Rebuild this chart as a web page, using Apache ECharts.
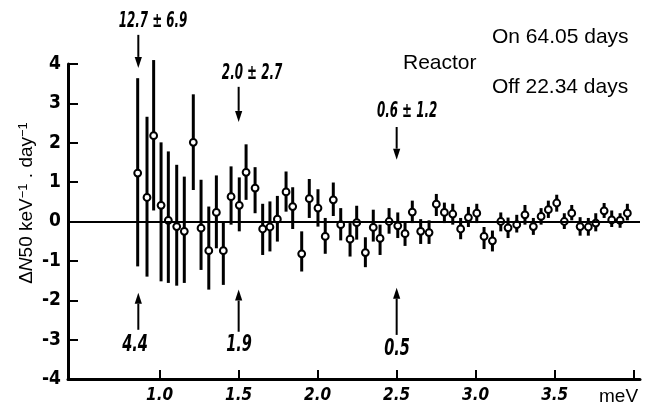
<!DOCTYPE html>
<html><head><meta charset="utf-8">
<script src="https://cdn.jsdelivr.net/npm/echarts@6/dist/echarts.min.js"></script>
<style>html,body{margin:0;padding:0;background:#fff}#c{width:653px;height:409px}</style>
</head><body><div id="c"></div>
<script>
// ---- data ----
const energy = [0.861,0.920,0.962,1.009,1.055,1.108,1.156,1.213,1.262,1.311,1.359,1.403,1.452,1.504,1.547,1.604,1.652,1.698,1.745,1.800,1.842,1.899,1.947,2.002,2.048,2.099,2.146,2.205,2.247,2.302,2.352,2.395,2.452,2.507,2.553,2.599,2.652,2.705,2.751,2.802,2.855,2.905,2.954,3.007,3.053,3.106,3.159,3.205,3.260,3.312,3.365,3.414,3.460,3.513,3.561,3.608,3.661,3.713,3.760,3.813,3.861,3.914,3.960];
const signal = [1.23,0.61,2.18,0.41,0.03,-0.13,-0.25,2.01,-0.17,-0.74,0.23,-0.74,0.63,0.41,1.25,0.85,-0.19,-0.14,0.06,0.75,0.38,-0.82,0.58,0.34,-0.38,0.55,-0.08,-0.45,-0.03,-0.79,-0.15,-0.43,0.0,-0.11,-0.31,0.24,-0.25,-0.28,0.44,0.23,0.19,-0.19,0.10,0.21,-0.38,-0.49,0.0,-0.16,-0.08,0.17,-0.13,0.13,0.30,0.47,0.0,0.21,-0.13,-0.14,-0.04,0.27,0.04,0.03,0.21];
const barLow = [-1.14,-1.40,0.28,-1.52,-1.56,-1.63,-1.56,0.80,-1.23,-1.73,-0.68,-1.61,-0.08,-0.25,0.55,0.21,-0.85,-0.76,-0.51,0.25,-0.19,-1.27,0.09,-0.13,-0.82,0.14,-0.48,-0.89,-0.46,-1.16,-0.51,-0.85,-0.31,-0.42,-0.62,-0.04,-0.57,-0.57,0.14,-0.04,-0.08,-0.45,-0.14,-0.04,-0.70,-0.76,-0.25,-0.42,-0.28,-0.08,-0.34,-0.08,0.09,0.25,-0.19,0.03,-0.36,-0.36,-0.25,0.09,-0.14,-0.16,0.03];
const barHigh = [3.64,2.66,4.10,2.01,1.78,1.44,1.14,3.23,1.06,0.38,1.17,0.00,1.40,1.12,1.96,1.38,0.45,0.51,0.65,1.27,0.87,-0.25,1.08,0.82,0.09,0.99,0.34,-0.04,0.40,-0.40,0.30,-0.08,0.34,0.23,0.00,0.53,0.06,0.03,0.70,0.48,0.45,0.09,0.37,0.45,-0.14,-0.23,0.23,0.10,0.17,0.42,0.09,0.34,0.53,0.68,0.21,0.42,0.11,0.09,0.21,0.47,0.28,0.21,0.45];
const xTicks = [1.0,1.5,2.0,2.5,3.0,3.5,4.0];
const xTickLabels = [1.0,1.5,2.0,2.5,3.0,3.5];
// annotations (data units)
const arrowEnergy = [0.865,1.5,2.5];
const upperNotes = ['12.7 ± 6.9','2.0 ± 2.7','0.6 ± 1.2'];
const upperNoteX = [0.958,1.585,2.566];
const upperNoteY = [5.07,3.75,2.78];
const upperArrowTail = [4.74,3.42,2.40];
const upperArrowTip = [3.90,2.53,1.57];
const lowerNotes = ['4.4','1.9','0.5'];
const lowerNoteX = [0.844,1.502,2.502];
const lowerNoteY = [-3.13,-3.13,-3.25];
const lowerArrowTail = [-2.75,-2.80,-2.88];
const lowerArrowTip = [-1.81,-1.73,-1.68];

const COND = "'DejaVu Sans Condensed',sans-serif";
const SANS = "'Liberation Sans',Arial,sans-serif";

const pointData = energy.map((e,i)=>[e, signal[i], barLow[i], barHigh[i]]);
const arrowData = [];
arrowEnergy.forEach((e,i)=>{ arrowData.push([e, upperArrowTail[i], upperArrowTip[i]]); });
arrowEnergy.forEach((e,i)=>{ arrowData.push([e, lowerArrowTail[i], lowerArrowTip[i]]); });
const noteData = [];
upperNotes.forEach((t,i)=>noteData.push([upperNoteX[i], upperNoteY[i]]));
lowerNotes.forEach((t,i)=>noteData.push([lowerNoteX[i], lowerNoteY[i]]));
const noteText = upperNotes.concat(lowerNotes);

const chart = echarts.init(document.getElementById('c'), null, {renderer:'canvas'});
chart.setOption({
  animation:false,
  backgroundColor:'#fff',
  grid:{left:68,right:13,top:64,bottom:30,containLabel:false,outerBoundsMode:'none'},
  xAxis:{
    type:'value', min:0.42, max:4.04,
    axisLine:{show:true,onZero:false,lineStyle:{color:'#000',width:3}},
    axisTick:{show:true,inside:true,length:9,customValues:xTicks,lineStyle:{color:'#000',width:2}},
    axisLabel:{show:true,customValues:xTickLabels,formatter:v=>Number(v).toFixed(1),
      fontFamily:COND,fontStyle:'italic',fontWeight:'bold',fontSize:17,color:'#000',margin:8},
    splitLine:{show:false}
  },
  yAxis:{
    type:'value', min:-4, max:4, interval:1,
    axisLine:{show:true,onZero:false,lineStyle:{color:'#000',width:3}},
    axisTick:{show:true,inside:true,length:10,lineStyle:{color:'#000',width:2}},
    axisLabel:{fontFamily:COND,fontWeight:'bold',fontSize:19,color:'#000',margin:7},
    splitLine:{show:false}
  },
  graphic:[
    {type:'text',x:27,y:203,rotation:Math.PI/2,style:{
      text:'{a|Δ}{n|N}{a|50 keV}{s|−1}{a| . day}{s|−1}',
      align:'center',verticalAlign:'middle',
      rich:{a:{fontFamily:SANS,fontSize:19,fill:'#000'},n:{fontFamily:SANS,fontSize:19,fontStyle:'italic',fill:'#000'},
            s:{fontFamily:SANS,fontSize:13,fill:'#000',verticalAlign:'top',padding:[0,0,8,0]}}
    }},
    {type:'text',left:492,top:27,style:{text:'On 64.05 days',fontFamily:SANS,fontSize:21,fill:'#000'}},
    {type:'text',left:403,top:53,style:{text:'Reactor',fontFamily:SANS,fontSize:21,fill:'#000'}},
    {type:'text',left:492,top:77,style:{text:'Off 22.34 days',fontFamily:SANS,fontSize:21,fill:'#000'}},
    {type:'text',left:599,top:387,style:{text:'meV',fontFamily:SANS,fontSize:19,fill:'#000'}}
  ],
  series:[
    {
      type:'custom', name:'points', data:pointData, clip:false,
      encode:{x:0,y:1},
      renderItem:function(params,api){
        const x=api.value(0), v=api.value(1), lo=api.value(2), hi=api.value(3);
        const pv=api.coord([x,v]), pl=api.coord([x,lo]), ph=api.coord([x,hi]);
        return {type:'group',children:[
          {type:'line',shape:{x1:pl[0],y1:pl[1],x2:ph[0],y2:ph[1]},style:{stroke:'#000',lineWidth:3}},
          {type:'circle',shape:{cx:pv[0],cy:pv[1],r:3.4},style:{fill:'#fff',stroke:'#000',lineWidth:2}}
        ]};
      },
      markLine:{silent:true,symbol:'none',label:{show:false},lineStyle:{color:'#000',width:2,type:'solid'},data:[{yAxis:0}]},
      z:3
    },
    {
      type:'custom', name:'arrows', data:arrowData, clip:false,
      renderItem:function(params,api){
        const x=api.value(0), y0=api.value(1), y1=api.value(2);
        const p0=api.coord([x,y0]), p1=api.coord([x,y1]);
        const dir = p1[1]>p0[1]?1:-1;
        const head=11, hw=3.6;
        const base=p1[1]-dir*head;
        return {type:'group',children:[
          {type:'line',shape:{x1:p0[0],y1:p0[1],x2:p0[0],y2:base},style:{stroke:'#000',lineWidth:2}},
          {type:'polygon',shape:{points:[[p1[0],p1[1]],[p1[0]-hw,base],[p1[0]+hw,base]]},style:{fill:'#000'}}
        ]};
      }
    },
    {
      type:'custom', name:'notes', data:noteData, clip:false,
      renderItem:function(params,api){
        const p=api.coord([api.value(0),api.value(1)]);
        const upper = params.dataIndex < 3;
        return {type:'text',x:p[0],y:p[1],scaleX:upper?0.63:0.7,
          style:{text:noteText[params.dataIndex],x:0,y:0,align:'center',verticalAlign:'middle',
          fontFamily:COND,fontStyle:'italic',fontWeight:'bold',fontSize:upper?21:23,fill:'#000'}};
      }
    }
  ]
});
</script></body></html>
